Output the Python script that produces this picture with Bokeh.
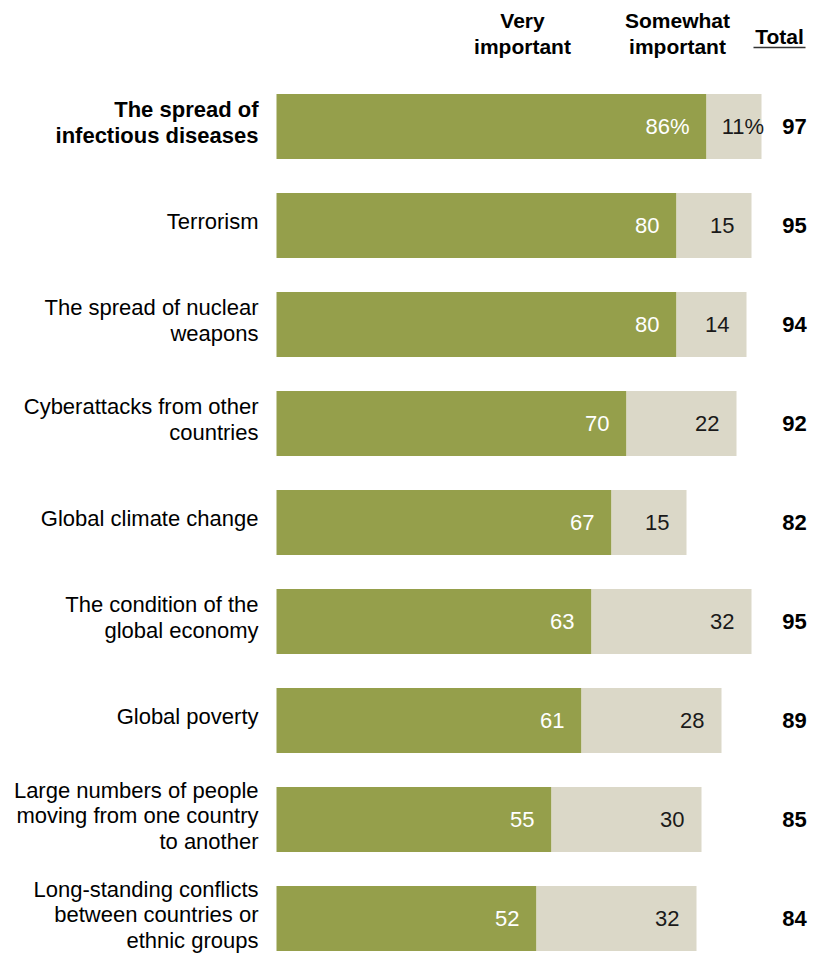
from bokeh.plotting import figure
from bokeh.models import Range1d, ColumnDataSource
from bokeh.core.properties import value
from bokeh.embed import file_html
from bokeh.resources import INLINE

# ---- data ----
categories = [
    "The spread of\ninfectious diseases",
    "Terrorism",
    "The spread of nuclear\nweapons",
    "Cyberattacks from other\ncountries",
    "Global climate change",
    "The condition of the\nglobal economy",
    "Global poverty",
    "Large numbers of people\nmoving from one country\nto another",
    "Long-standing conflicts\nbetween countries or\nethnic groups",
]
very_important = [86, 80, 80, 70, 67, 63, 61, 55, 52]
somewhat_important = [11, 15, 14, 22, 15, 32, 28, 30, 32]
total = [97, 95, 94, 92, 82, 95, 89, 85, 84]
header_very = "Very\nimportant"
header_somewhat = "Somewhat\nimportant"
header_total = "Total"

GREEN = "#959F4B"
LIGHT = "#DBD8C8"
FONT = "Liberation Sans"

W, H = 819, 954
PX_PER_UNIT = 5.0
ZERO_PX = 276.0          # pixel x of value 0
ROW_PX = 99.0
ROW0_PX = 126.0          # pixel y of first row centre


def xpx(px):
    return (px - ZERO_PX) / PX_PER_UNIT


def ypx(py):
    return (py - ROW0_PX) / ROW_PX


p = figure(width=W, height=H, output_backend="svg", toolbar_location=None,
           x_range=Range1d(-ZERO_PX / PX_PER_UNIT, (W - ZERO_PX) / PX_PER_UNIT),
           y_range=Range1d((H - ROW0_PX) / ROW_PX, -ROW0_PX / ROW_PX),
           min_border=0, outline_line_color=None, background_fill_color="white")
p.axis.visible = False
p.grid.visible = False

n = len(categories)
ys = list(range(n))
ends = [v + s for v, s in zip(very_important, somewhat_important)]
src = ColumnDataSource(dict(
    y=ys,
    very=very_important,
    some=somewhat_important,
    end=ends,
    very_lbl=[f"{v}%" if i == 0 else str(v) for i, v in enumerate(very_important)],
    some_lbl=[str(s) for s in somewhat_important],
    zero=[0] * n,
))

BAR_H = 65 / ROW_PX
p.hbar(y="y", left="zero", right="very", height=BAR_H, color=GREEN, line_color=None, source=src)
p.hbar(y="y", left="very", right="end", height=BAR_H, color=LIGHT, line_color=None, source=src)

# values inside bars
p.text(x="very", y="y", text="very_lbl", x_offset=-17, text_align="right",
       text_baseline="middle", text_color="white", text_font=value(FONT),
       text_font_size="22px", source=src)
p.text(x="end", y="y", text="some_lbl", x_offset=-17, text_align="right",
       text_baseline="middle", text_color="#1a1a1a", text_font=value(FONT),
       text_font_size="22px", source=src)
# percent sign after first somewhat value
p.text(x=[ends[0]], y=[0], text=["%"], x_offset=-17, text_align="left",
       text_baseline="middle", text_color="#1a1a1a", text_font=value(FONT),
       text_font_size="22px")

# totals
src_tot = ColumnDataSource(dict(x=[xpx(794)] * n, y=ys, t=[str(t) for t in total]))
p.text(x="x", y="y", text="t", text_align="center", text_baseline="middle",
       text_color="black", text_font=value(FONT), text_font_style="bold",
       text_font_size="22px", source=src_tot)

# category labels
src_lab = ColumnDataSource(dict(x=[xpx(258)] * n, y=ys, t=categories,
                                st=["bold" if i == 0 else "normal" for i in range(n)]))
p.text(x="x", y="y", text="t", text_align="right", text_baseline="middle",
       y_offset=-4,
       text_color="black", text_font=value(FONT), text_font_style="st",
       text_font_size="22px", text_line_height=1.02, source=src_lab)

# headers
p.text(x=[xpx(522), xpx(677)], y=[ypx(33), ypx(33)], text=[header_very, header_somewhat],
       text_align="center", text_baseline="middle", text_color="black",
       text_font=value(FONT), text_font_style="bold", text_font_size="21px",
       text_line_height=1.15)
p.text(x=[xpx(779)], y=[ypx(36)], text=[header_total], text_align="center",
       text_baseline="middle", text_color="black", text_font=value(FONT),
       text_font_style="bold", text_font_size="21px")
p.segment(x0=[xpx(753)], x1=[xpx(805)], y0=[ypx(47)], y1=[ypx(47)],
          line_color="#333333", line_width=1.5)

open("out.html", "w").write(file_html(p, INLINE))
